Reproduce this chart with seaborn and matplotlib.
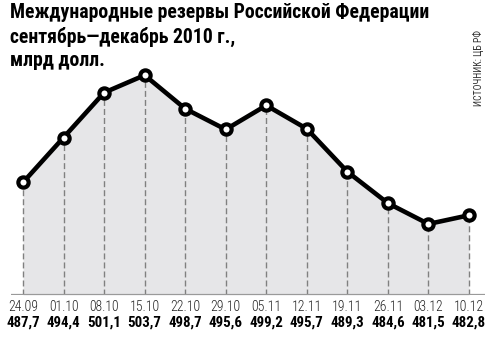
import matplotlib
matplotlib.use("Agg")
import matplotlib.pyplot as plt
import seaborn as sns
import pandas as pd
import numpy as np
from matplotlib import font_manager

dates = ["24.09", "01.10", "08.10", "15.10", "22.10", "29.10",
         "05.11", "12.11", "19.11", "26.11", "03.12", "10.12"]
values = [487.7, 494.4, 501.1, 503.7, 498.7, 495.6,
          499.2, 495.7, 489.3, 484.6, 481.5, 482.8]
value_labels = ["487,7", "494,4", "501,1", "503,7", "498,7", "495,6",
                "499,2", "495,7", "489,3", "484,6", "481,5", "482,8"]
title_lines = ["Международные резервы Российской Федерации",
               "сентябрь—декабрь 2010 г.,",
               "млрд долл."]
source = "ИСТОЧНИК: ЦБ РФ"

sns.set_theme(style="white")
names = {f.name for f in font_manager.fontManager.ttflist}
prefs = ["Roboto Condensed", "Fira Sans Condensed", "PT Sans Narrow",
         "IBM Plex Sans Condensed", "Open Sans Condensed",
         "Archivo Narrow", "Liberation Sans Narrow", "Roboto"]
main = next((p for p in prefs if p in names), "DejaVu Sans")
fam = [main, "DejaVu Sans"]
plt.rcParams["font.family"] = fam

YMIN, YMAX = 470.9, 509.7
df = pd.DataFrame({"x": np.arange(len(values)), "v": values})

fig = plt.figure(figsize=(5.0, 3.38), dpi=100)
ax = fig.add_axes([0.022, 1 - 295 / 338, 0.948, 260 / 338])

ax.fill_between(df["x"], df["v"], YMIN, color="#e6e6e8", zorder=1, linewidth=0)
ax.vlines(df["x"], YMIN, df["v"], colors="#808080", linestyles=(0, (4.3, 2.2)),
          linewidth=1.0, zorder=2)
sns.lineplot(data=df, x="x", y="v", ax=ax, color="black", linewidth=3.3,
             marker="o", markersize=7.4, markerfacecolor="white",
             markeredgecolor="black", markeredgewidth=3.0, zorder=5)
ax.axhline(YMIN, color="#9a9a9a", linewidth=1.6, zorder=3)

ax.set_xlim(-0.296, 11.395)
ax.set_ylim(YMIN, YMAX)
ax.set_xticks(df["x"])
ax.set_xticklabels([])
ax.tick_params(axis="x", length=0)
ax.set_yticks([])
ax.set_xlabel("")
ax.set_ylabel("")
for s in ax.spines.values():
    s.set_visible(False)

fig.canvas.draw()
renderer = fig.canvas.get_renderer()


def fit(t, target_px):
    bb = t.get_window_extent(renderer)
    t.set_fontsize(t.get_fontsize() * target_px / bb.width)


trans = ax.get_xaxis_transform()
for i, (d, lab) in enumerate(zip(dates, value_labels)):
    td = ax.text(i, -12 / 260, d, transform=trans, ha="center", va="center",
                 fontsize=10, color="#222222", fontweight="light")
    fit(td, 30)
    tv = ax.text(i, -28 / 260, lab, transform=trans, ha="center", va="center",
                 fontsize=10, fontweight="bold", color="black")
    fit(tv, 34)

ys = [13, 37, 61]
texts = []
for t, y in zip(title_lines, ys):
    tt = fig.text(10 / 500, 1 - y / 338, t, ha="left", va="center", fontsize=12,
                  fontweight="bold", color="black")
    texts.append(tt)
fit(texts[0], 422)
for tt in texts[1:]:
    tt.set_fontsize(texts[0].get_fontsize())

ts = fig.text(478 / 500, 1 - 68 / 338, source, rotation=90, ha="center",
              va="center", fontsize=7.5, color="#333333")
bb = ts.get_window_extent(renderer)
ts.set_fontsize(ts.get_fontsize() * 76 / bb.height)

fig.savefig("out.png", dpi=100, facecolor="white")
